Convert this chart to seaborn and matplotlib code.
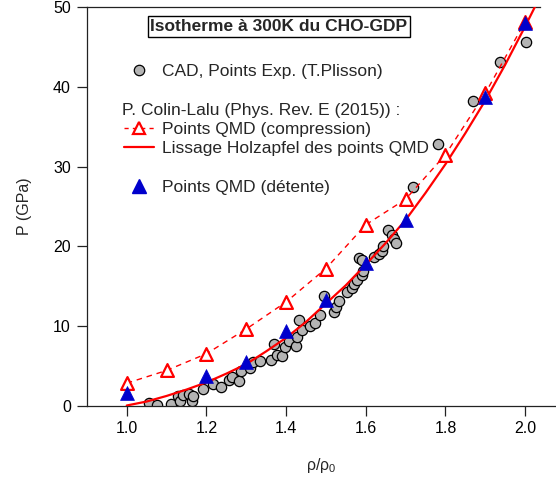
import matplotlib
matplotlib.use("Agg")
import matplotlib.pyplot as plt
from matplotlib.lines import Line2D
import seaborn as sns

# Data
# experimental points (CAD, T.Plisson)
exp_rho = [1.056, 1.077, 1.112, 1.128, 1.133, 1.140, 1.157, 1.163, 1.167, 1.192,
           1.217, 1.236, 1.256, 1.263, 1.283, 1.286,
           1.310, 1.318, 1.335, 1.362, 1.370, 1.378, 1.389, 1.398, 1.408, 1.425,
           1.427, 1.432, 1.440, 1.460, 1.472, 1.485, 1.495, 1.521, 1.526, 1.532, 1.553,
           1.565, 1.571, 1.577, 1.590, 1.594, 1.582, 1.590, 1.620, 1.633, 1.640,
           1.643, 1.655, 1.666, 1.670, 1.675, 1.718,
           1.782, 1.869, 1.937, 2.003]
exp_P = [0.3, 0.1, 0.2, 1.2, 0.6, 1.3, 1.5, 0.6, 1.2, 2.1,
         2.7, 2.3, 3.2, 3.6, 3.1, 4.3,
         4.7, 5.5, 5.6, 5.7, 7.7, 6.4, 6.2, 7.4, 8.1, 7.5,
         8.6, 10.7, 9.5, 10.0, 10.4, 11.4, 13.8, 11.8, 12.4, 13.1, 14.3,
         14.7, 15.3, 15.8, 16.4, 16.9, 18.5, 18.3, 18.6, 19.0, 19.4,
         20.0, 22.0, 21.4, 20.9, 20.4, 27.4,
         32.8, 38.2, 43.1, 45.7]

# QMD compression
comp_rho = [1.0, 1.1, 1.2, 1.3, 1.4, 1.5, 1.6, 1.7, 1.8, 1.9, 2.0]
comp_P = [2.8, 4.4, 6.5, 9.6, 13.0, 17.2, 22.7, 25.9, 31.5, 39.2, 48.2]

# QMD detente
det_rho = [1.0, 1.2, 1.3, 1.4, 1.5, 1.6, 1.7, 1.9, 2.0]
det_P = [1.6, 3.7, 5.5, 9.4, 13.3, 17.9, 23.3, 38.7, 48.0]

# Holzapfel fit curve
fit_rho = [1.00, 1.05, 1.10, 1.15, 1.20, 1.25, 1.30, 1.35, 1.40, 1.45, 1.50,
           1.55, 1.60, 1.65, 1.70, 1.75, 1.80, 1.85, 1.90, 1.95, 2.00, 2.05]
fit_P = [0.0, 0.5, 1.2, 2.0, 2.9, 4.0, 5.2, 6.8, 8.5, 10.5, 12.8,
         15.1, 17.7, 20.4, 23.3, 26.7, 30.3, 34.2, 38.3, 42.8, 47.6, 52.6]

RED = "#ff0000"
BLUE = "#0000cc"
GRAY = "#b4b4b4"
FS = 12.5

sns.set_style("ticks")
plt.rcParams["font.family"] = ["Liberation Sans", "DejaVu Sans"]
plt.rcParams["mathtext.default"] = "regular"

fig = plt.figure(figsize=(5.56, 4.82), dpi=100)
W, H = 556, 482
ax = fig.add_axes([86.9 / W, (H - 405.5) / H, (W - 86.9) / W, (405.5 - 7.3) / H])

sns.scatterplot(x=exp_rho, y=exp_P, color=GRAY, edgecolor="black", linewidth=0.9,
                s=55, ax=ax, zorder=2)
sns.lineplot(x=fit_rho, y=fit_P, color=RED, lw=1.6, ax=ax, sort=False, zorder=3)
sns.lineplot(x=comp_rho, y=comp_P, color=RED, lw=1.0, linestyle=(0, (4, 3.5)),
             ax=ax, sort=False, zorder=3)
sns.scatterplot(x=comp_rho, y=comp_P, marker="^", facecolor="white", edgecolor=RED,
                linewidth=1.6, s=85, ax=ax, zorder=4)
sns.scatterplot(x=det_rho, y=det_P, marker="^", color=BLUE, edgecolor=BLUE,
                linewidth=0.5, s=100, ax=ax, zorder=5)

ax.set_xlim(0.9, 0.9 + (W - 86.9) / 398.4)
ax.set_ylim(0, 50)
ax.set_xticks([1.0, 1.2, 1.4, 1.6, 1.8, 2.0])
ax.set_xticklabels(["1.0", "1.2", "1.4", "1.6", "1.8", "2.0"])
ax.set_yticks([0, 10, 20, 30, 40, 50])
ax.tick_params(direction="out", length=7.5, width=0.9, colors="#222222",
               labelsize=11.5, labelcolor="black", pad=4)
for s in ["left", "bottom", "top"]:
    ax.spines[s].set_visible(True)
    ax.spines[s].set_color("#222222")
    ax.spines[s].set_linewidth(0.9)
ax.spines["right"].set_visible(False)
ax.spines["top"].set_bounds(0.9, 2.037)

ax.set_xlabel("ρ/ρ$_0$", fontsize=11.5, labelpad=14)
ax.set_ylabel("P (GPa)", fontsize=11.5, labelpad=15)

# legend: blank rows keep the spacing of the reference, header written apart
blank = Line2D([], [], linestyle="none")
handles = [
    Line2D([], [], linestyle="none", marker="o", markerfacecolor=GRAY,
           markeredgecolor="black", markersize=7.5, markeredgewidth=0.9),
    blank, blank,
    Line2D([], [], color=RED, lw=1.0, linestyle=(0, (3, 3)), marker="^",
           markerfacecolor="white", markeredgecolor=RED, markersize=8.5,
           markeredgewidth=1.6),
    Line2D([], [], color=RED, lw=1.6),
    blank,
    Line2D([], [], linestyle="none", marker="^", markerfacecolor=BLUE,
           markeredgecolor=BLUE, markersize=9.5),
]
labels = ["CAD, Points Exp. (T.Plisson)", "Ag", "Ag",
          "Points QMD (compression)", "Lissage Holzapfel des points QMD", "Ag",
          "Points QMD (détente)"]
leg = fig.legend(handles, labels, loc="upper left",
                 bbox_to_anchor=(124 / W, 1 - 64 / H), frameon=False, borderpad=0,
                 borderaxespad=0, handlelength=1.75, handletextpad=0.45,
                 labelspacing=0.24, fontsize=FS)
for i in (1, 2, 5):
    leg.get_texts()[i].set_alpha(0)

fig.text(122 / W, 1 - 110 / H, "P. Colin-Lalu (Phys. Rev. E (2015)) :",
         fontsize=FS, va="center", ha="left")
fig.text(279 / W, 1 - 26.5 / H, "Isotherme à 300K du CHO-GDP", fontsize=FS,
         fontweight="bold", ha="center", va="center",
         bbox=dict(boxstyle="square,pad=0.15", facecolor="white",
                   edgecolor="black", linewidth=1.0))

fig.savefig("out.png", dpi=100)
